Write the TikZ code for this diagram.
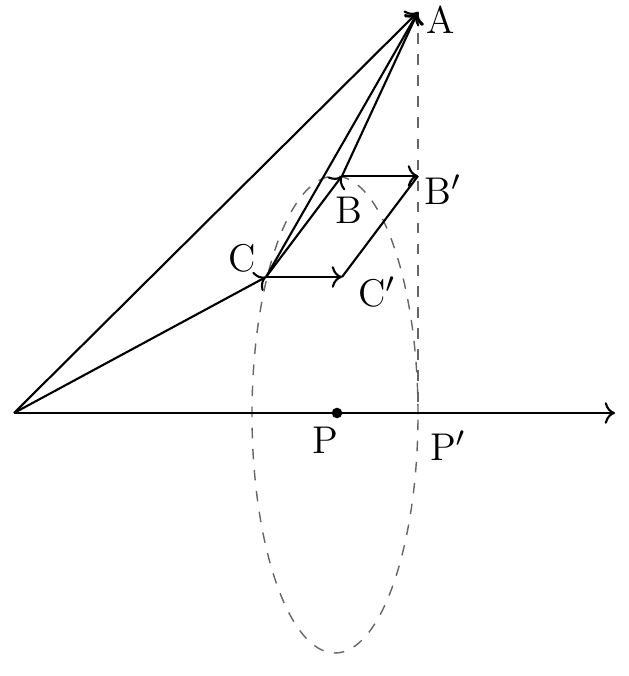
\documentclass[tikz,border=0pt]{standalone}
\usepackage{tikz}
\usetikzlibrary{arrows.meta, positioning}
\tikzstyle{point} = [inner sep=1pt, font=\fontsize{11}{13}\selectfont]
\tikzstyle{arrow} = [->, semithick]
\tikzstyle{guide} = [dashed, thin, gray!80!black]

\begin{document}
\begin{tikzpicture}
    \useasboundingbox (0, 0) rectangle (6.28, 6.76);

    \coordinate (O) at (0.14, 2.63);
    \coordinate (A) at (4.18, 6.64);
    \coordinate (B) at (3.42, 5.00);
    \coordinate (Bp) at (4.18, 5.00);
    \coordinate (C) at (2.66, 3.99);
    \coordinate (Cp) at (3.42, 3.99);
    \coordinate (P) at (3.37, 2.63);
    \coordinate (Pp) at (4.18, 2.63);
    \coordinate (xend) at (6.15, 2.63);

    \node (lA) [point] at (4.41, 6.56) {A};
    \node (lB) [point] at (3.49, 4.66) {B};
    \node (lBp) [point] at (4.43, 4.86) {B$'$};
    \node (lC) [point] at (2.42, 4.18) {C};
    \node (lCp) [point] at (3.77, 3.84) {C$'$};
    \node (lP) [point] at (3.25, 2.36) {P};
    \node (lPp) [point] at (4.48, 2.30) {P$'$};

    % guides
    \draw [guide] (3.35, 2.615) ellipse [x radius=0.83, y radius=2.385];
    \draw [guide] (A) -- (Pp);

    % axis
    \draw [arrow] (O) -- (xend);
    \fill (P) circle [radius=1.5pt];

    % vectors
    \draw [arrow] (O) -- (A);
    \draw [arrow] (O) -- (C);
    \draw [arrow] (C) -- (A);
    \draw [arrow] (B) -- (A);
    \draw [arrow] (C) -- (B);
    \draw [arrow] (C) -- (Cp);
    \draw [arrow] (B) -- (Bp);
    \draw [semithick] (Cp) -- (Bp);

\end{tikzpicture}
\end{document}
